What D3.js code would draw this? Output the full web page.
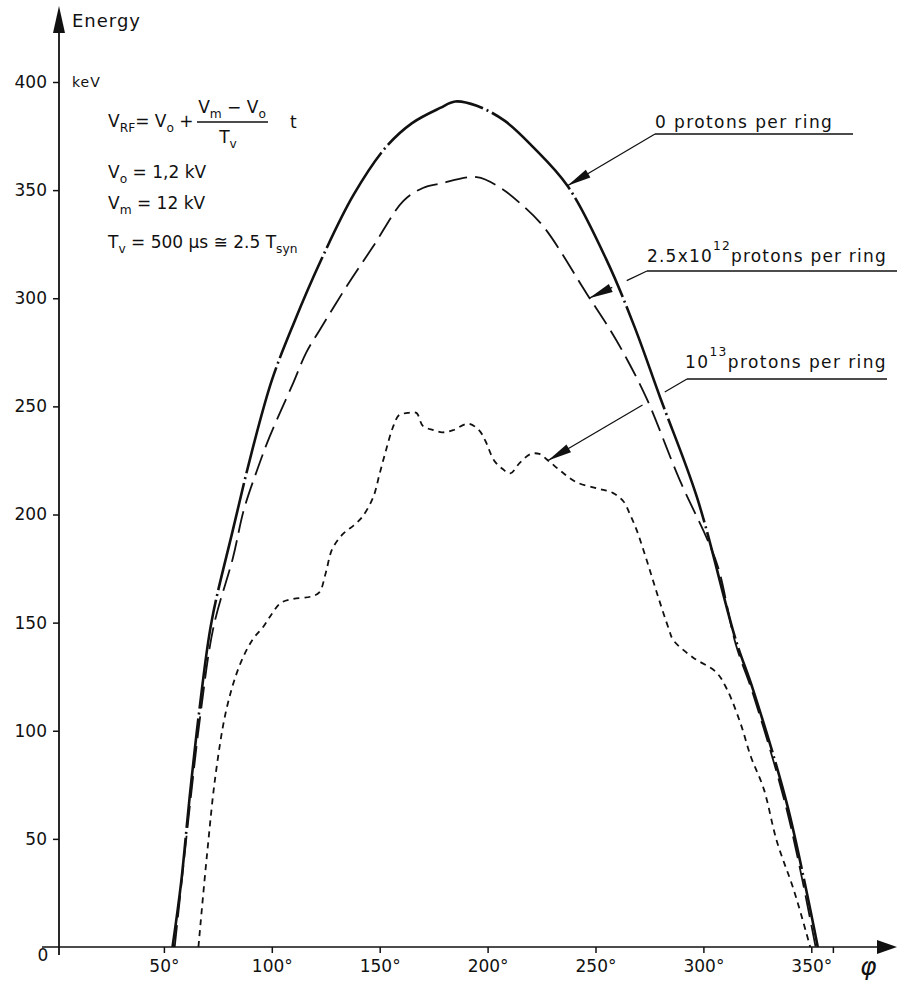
<!DOCTYPE html>
<html>
<head>
<meta charset="utf-8">
<script src="https://cdn.jsdelivr.net/npm/d3@7"></script>
<style>
  body { margin: 0; background: #fff; }
  text { font-family: "DejaVu Sans", sans-serif; fill: #111; }
</style>
</head>
<body>
<div id="plot"></div>
<script>
// tick values and labels
var phaseTicks = [50, 100, 150, 200, 250, 300, 350, 360];
var phaseTickLabels = ["50°", "100°", "150°", "200°", "250°", "300°", "350°", ""];
var energyTicks = [50, 100, 150, 200, 250, 300, 350, 400];

// 0 protons per ring
var phase0 = [54, 58, 62, 66.5, 72, 82, 91, 100, 110, 123, 138, 153, 165, 178, 185, 195, 208, 221, 237, 255, 268, 280, 297, 315, 323, 339, 353];
var energy0 = [0, 30, 70, 110, 150, 193, 230, 262, 288, 318, 348, 370, 381, 388, 391, 389, 382, 370, 352, 318, 287, 254, 208, 142, 119, 65, 0];

// 2.5x10^12 protons per ring
var phase25 = [55, 58, 62, 67, 73, 82, 87, 93, 99, 110, 116, 122, 135, 147, 161, 170, 178, 195, 206, 215, 226, 246, 257, 265, 274, 289, 302, 307, 315, 323, 339, 352];
var energy25 = [0, 28, 65, 108, 148, 180, 202, 220, 236, 261, 275, 285, 306, 324, 345, 351, 353, 356, 351, 344, 333, 302, 285, 271, 253, 216, 188, 175, 140, 117, 62, 0];

// 10^13 protons per ring
var phase13 = [66, 70, 74, 79, 85, 91, 96, 100, 104, 110, 118, 122, 125, 128, 133, 138, 142, 147, 150, 153, 156, 159, 163, 167, 170, 175, 179, 184, 191, 196, 199, 203, 207, 210.5, 215, 220, 224, 228, 234, 241, 251, 258, 263, 266, 269, 274, 279, 284, 286, 295, 306, 311, 317, 322, 328, 334, 342, 349.5];
var energy13 = [0, 43, 80, 110, 130, 142, 148, 154, 159, 161, 162, 164, 173, 184, 191, 195, 199, 208, 219, 230, 240, 246, 247, 247, 241, 239, 238, 239, 242, 239, 234, 225, 221, 219, 224, 228, 228, 225, 220, 215, 212, 210, 206, 200, 193, 178, 162, 147, 142, 134, 127, 119, 104, 88, 73, 49, 26, 0];

var width = 897,
    height = 987;

var svg = d3.select("#plot")
  .append("svg")
    .attr("width", width)
    .attr("height", height);

var x = d3.scaleLinear()
    .domain([0, 360])
    .range([56, 56 + 2.158 * 360]);

var y = d3.scaleLinear()
    .domain([0, 400])
    .range([947, 82]);

var axisX = 59;

// X axis
var xAxis = svg.append("g")
    .attr("transform", "translate(0," + y(0) + ")")
    .call(d3.axisBottom(x)
        .tickValues(phaseTicks)
        .tickSize(6)
        .tickPadding(7)
        .tickFormat(function(d, i) { return phaseTickLabels[i]; }));
xAxis.select(".domain").remove();
xAxis.selectAll("line").attr("stroke", "#111").attr("stroke-width", 1.5);
xAxis.selectAll("text")
    .attr("font-size", "17px")
    .attr("font-family", "DejaVu Sans")
    .attr("fill", "#111");

// Y axis
var yAxis = svg.append("g")
    .attr("transform", "translate(" + axisX + ",0)")
    .call(d3.axisLeft(y)
        .tickValues(energyTicks)
        .tickSize(6)
        .tickPadding(6));
yAxis.select(".domain").remove();
yAxis.selectAll("line").attr("stroke", "#111").attr("stroke-width", 1.5);
yAxis.selectAll("text")
    .attr("font-size", "17px")
    .attr("font-family", "DejaVu Sans")
    .attr("fill", "#111");

// axis lines with arrows
svg.append("line")
    .attr("x1", axisX).attr("x2", axisX)
    .attr("y1", y(0) + 8).attr("y2", 30)
    .attr("stroke", "#111").attr("stroke-width", 1.8);
svg.append("path")
    .attr("d", "M" + axisX + ",6 L" + (axisX - 6) + ",33 L" + (axisX + 6) + ",33 Z")
    .attr("fill", "#111");

svg.append("line")
    .attr("x1", 42).attr("x2", 880)
    .attr("y1", y(0)).attr("y2", y(0))
    .attr("stroke", "#111").attr("stroke-width", 1.5);
svg.append("path")
    .attr("d", "M897," + y(0) + " L877," + (y(0) - 7) + " L877," + (y(0) + 7) + " Z")
    .attr("fill", "#111");

svg.append("text")
    .attr("x", 43).attr("y", y(0) + 8)
    .attr("dy", "0.35em")
    .attr("text-anchor", "middle")
    .attr("font-size", "17px")
    .text("0");

svg.append("text")
    .attr("x", 860).attr("y", 975)
    .attr("font-family", "DejaVu Serif")
    .attr("font-style", "italic")
    .attr("font-size", "25px")
    .text("φ");

svg.append("text")
    .attr("x", 72).attr("y", 27)
    .attr("font-size", "18px")
    .attr("letter-spacing", "1px")
    .text("Energy");

svg.append("text")
    .attr("x", 72).attr("y", 87)
    .attr("font-size", "14px")
    .attr("letter-spacing", "1px")
    .text("keV");

// curves
var line = d3.line()
    .x(function(d) { return x(d[0]); })
    .y(function(d) { return y(d[1]); })
    .curve(d3.curveCatmullRom.alpha(0.5));

var series = [
  {phase: phase0, energy: energy0, width: 2.6, dash: "110,4,2,4"},
  {phase: phase25, energy: energy25, width: 1.8, dash: "22,8"},
  {phase: phase13, energy: energy13, width: 1.8, dash: "6,5"}
];

svg.selectAll(".curve")
  .data(series)
  .enter()
  .append("path")
    .attr("class", "curve")
    .attr("d", function(s) {
        return line(s.phase.map(function(p, i) { return [p, s.energy[i]]; }));
    })
    .attr("fill", "none")
    .attr("stroke", "#111")
    .attr("stroke-width", function(s) { return s.width; })
    .attr("stroke-dasharray", function(s) { return s.dash; });

// formula block
function richText(px, py, parts, size) {
    var t = svg.append("text")
        .attr("x", px).attr("y", py)
        .attr("font-size", size + "px");
    var shift = 0;
    parts.forEach(function(p) {
        var target = p[1] === "sub" ? 5 : (p[1] === "sup" ? -12 : 0);
        t.append("tspan")
            .attr("dy", target - shift)
            .attr("font-size", p[1] ? (size * 0.72) + "px" : null)
            .text(p[0]);
        shift = target;
    });
    return t;
}

richText(108, 127, [["V"], ["RF", "sub"], ["= V"], ["o", "sub"], [" +"]], 17);
richText(232, 113, [["V"], ["m", "sub"], [" − V"], ["o", "sub"]], 17).attr("text-anchor", "middle");
svg.append("line")
    .attr("x1", 197).attr("x2", 268)
    .attr("y1", 122).attr("y2", 122)
    .attr("stroke", "#111").attr("stroke-width", 1.5);
richText(228, 143, [["T"], ["v", "sub"]], 17).attr("text-anchor", "middle");
richText(290, 128, [["t"]], 17);

richText(108, 178, [["V"], ["o", "sub"], [" = 1,2 kV"]], 17);
richText(108, 209, [["V"], ["m", "sub"], [" = 12 kV"]], 17);
richText(108, 248, [["T"], ["v", "sub"], [" = 500 μs ≅ 2.5 T"], ["syn", "sub"]], 17);

// labels with leader arrows
function arrow(sx, sy, tx, ty, gap) {
    var dx = tx - sx, dy = ty - sy;
    var len = Math.sqrt(dx * dx + dy * dy);
    var ux = dx / len, uy = dy / len;
    if (gap) {
        svg.append("line")
            .attr("x1", sx).attr("y1", sy)
            .attr("x2", sx + dx * gap[0]).attr("y2", sy + dy * gap[0])
            .attr("stroke", "#111").attr("stroke-width", 1.3);
        svg.append("line")
            .attr("x1", sx + dx * gap[1]).attr("y1", sy + dy * gap[1])
            .attr("x2", tx).attr("y2", ty)
            .attr("stroke", "#111").attr("stroke-width", 1.3);
    } else {
        svg.append("line")
            .attr("x1", sx).attr("y1", sy)
            .attr("x2", tx).attr("y2", ty)
            .attr("stroke", "#111").attr("stroke-width", 1.3);
    }
    var hl = 24, hw = 4.5;
    var bx = tx - ux * hl, by = ty - uy * hl;
    svg.append("path")
        .attr("d", "M" + tx + "," + ty +
            " L" + (bx - uy * hw) + "," + (by + ux * hw) +
            " L" + (bx + uy * hw) + "," + (by - ux * hw) + " Z")
        .attr("fill", "#111");
}

function underline(x1, x2, yy) {
    svg.append("line")
        .attr("x1", x1).attr("x2", x2)
        .attr("y1", yy).attr("y2", yy)
        .attr("stroke", "#111").attr("stroke-width", 1.5);
}

richText(655, 128, [["0  protons per ring"]], 17).attr("letter-spacing", "1.4px");
underline(655, 853, 134);
arrow(655, 134, x(237), y(352));

richText(647, 262, [["2.5x10"], ["12", "sup"], ["protons per ring"]], 17).attr("letter-spacing", "1.2px");
underline(647, 897, 271);
arrow(647, 271, x(247), y(300), [0.35, 0.6]);

richText(685, 368, [["10"], ["13", "sup"], ["protons per ring"]], 17).attr("letter-spacing", "1.4px");
underline(687, 887, 379);
arrow(687, 379, x(228), y(225), [0.16, 0.32]);
</script>
</body>
</html>
